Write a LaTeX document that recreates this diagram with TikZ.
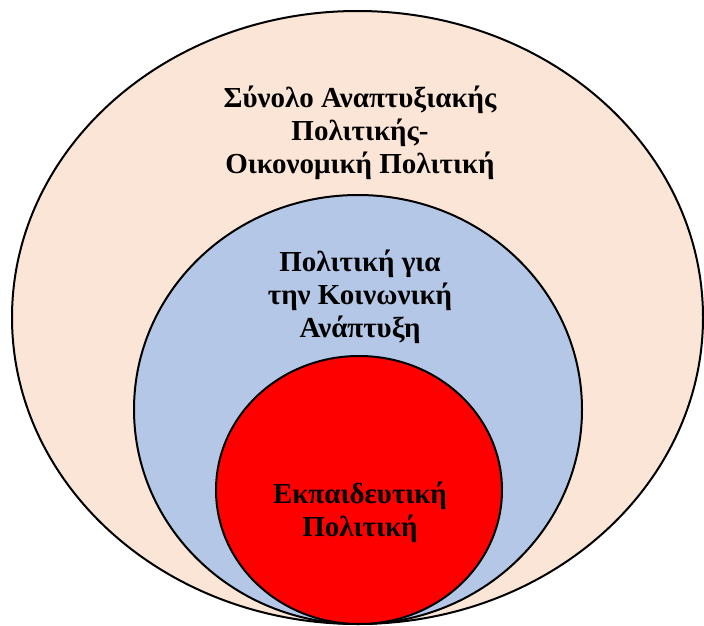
\documentclass[tikz,border=0pt]{standalone}
\usepackage{fontspec}
\setmainfont{Liberation Serif}
\usetikzlibrary{shapes.geometric}
\definecolor{peach}{HTML}{FBE5D6}
\definecolor{paleblue}{HTML}{B4C7E7}
\definecolor{brightred}{HTML}{FF0000}
\tikzset{
  ring/.style={ellipse, draw=black, line width=2pt, inner sep=0pt},
  caption/.style={align=center, font=\fontsize{29}{33}\selectfont\bfseries, inner sep=0pt}
}
\begin{document}
\begin{tikzpicture}[x=1pt, y=-1pt]
  \useasboundingbox (0,0) rectangle (704,626);
  % nested policy areas, all touching at the bottom
  \node[ring, fill=peach, minimum width=691pt, minimum height=613pt] (outer) at (357.5,317.5) {};
  \node[ring, fill=paleblue, minimum width=448pt, minimum height=429pt] (middle) at (358,409.5) {};
  \node[ring, fill=brightred, minimum width=286pt, minimum height=268pt] (inner) at (359,490) {};
  % labels
  \node[caption] (outerlabel) at (360,133) {Σύνολο Αναπτυξιακής\\Πολιτικής-\\Οικονομική Πολιτική};
  \node[caption] (middlelabel) at (360,297) {Πολιτική για\\την Κοινωνική\\Ανάπτυξη};
  \node[caption] (innerlabel) at (360,512) {Εκπαιδευτική\\Πολιτική};
\end{tikzpicture}
\end{document}
